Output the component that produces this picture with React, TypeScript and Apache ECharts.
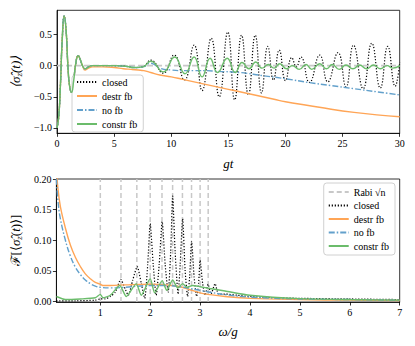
import React, { useEffect, useRef } from "react";
import * as echarts from "echarts";

// ---------- top panel: <sigma_z(t)> vs gt ----------
const tEarly = [0, 0.15, 0.3, 0.45, 0.63, 0.8, 0.95, 1.1, 1.27, 1.45, 1.65, 1.85, 2.05, 2.25];
const vEarly = [-1, -0.82, -0.3, 0.4, 0.8, 0.55, 0.0, -0.33, -0.43, -0.25, 0.05, 0.16, 0.09, -0.01];

const tClosedTail = [2.45, 2.75, 3.1, 4.0, 5.0, 6.0, 6.8, 7.5, 8.2, 9.3, 10.25, 11.15, 12.0, 12.7, 13.5, 14.2, 14.95, 15.55, 16.15, 16.75, 17.35, 17.9, 18.45, 18.95, 19.45, 20.0, 20.55, 20.95, 21.35, 22.1, 23.0, 23.7, 24.6, 25.3, 25.95, 26.8, 27.55, 28.3, 28.95, 29.6, 30.0];
const vClosedTail = [-0.05, -0.02, 0.0, 0.0, 0.0, -0.01, -0.03, -0.02, 0.09, -0.12, 0.17, -0.23, 0.33, -0.4, 0.44, -0.5, 0.54, -0.55, 0.49, -0.47, 0.49, -0.44, 0.31, -0.23, 0.25, -0.24, 0.13, -0.02, 0.14, -0.27, 0.17, -0.26, 0.21, -0.34, 0.33, -0.37, 0.36, -0.36, 0.31, -0.33, 0.05];

const tDestrTail = [2.45, 2.75, 3.1, 4.0, 5.0, 5.8, 6.5, 7.1, 7.6, 8.2, 9.0, 10.0, 11.0, 12.0, 13.0, 14.0, 15.0, 16.0, 17.0, 18.0, 19.0, 20.0, 22.0, 24.0, 26.0, 28.0, 30.0];
const vDestrTail = [-0.07, -0.04, -0.02, -0.02, -0.03, -0.05, -0.06, -0.07, -0.08, -0.11, -0.15, -0.18, -0.22, -0.26, -0.3, -0.34, -0.38, -0.42, -0.46, -0.5, -0.54, -0.58, -0.64, -0.7, -0.75, -0.79, -0.82];

const tNoFbTail = [2.45, 2.75, 3.1, 4.0, 5.0, 6.0, 6.8, 7.5, 8.2, 9.0, 10.0, 11.0, 12.0, 13.0, 14.0, 16.0, 18.0, 20.0, 22.0, 24.0, 26.0, 28.0, 30.0];
const vNoFbTail = [-0.05, -0.02, 0.0, 0.0, 0.0, -0.01, -0.03, -0.02, 0.04, -0.04, -0.07, -0.08, -0.08, -0.08, -0.09, -0.11, -0.16, -0.21, -0.27, -0.32, -0.37, -0.42, -0.47];

const tConstrTail = [2.45, 2.75, 3.1, 4.0, 5.0, 6.0, 6.8, 7.5, 8.2, 9.3, 10.3, 11.2, 12.0, 12.7, 13.4, 14.05, 14.9, 15.6, 16.2, 16.8, 17.4, 17.95, 18.5, 19.0, 19.5, 20.1, 20.6, 21.2, 21.8, 22.3, 23.0, 23.6, 24.1, 24.7, 25.3, 25.9, 26.5, 27.1, 27.7, 28.3, 28.9, 29.4, 30.0];
const vConstrTail = [-0.05, -0.02, 0.0, 0.0, 0.0, -0.01, -0.03, -0.02, 0.07, -0.1, 0.14, -0.13, 0.14, -0.18, 0.12, -0.11, 0.12, -0.11, 0.05, -0.05, 0.06, -0.04, 0.02, -0.04, 0.03, -0.05, 0.0, -0.06, 0.02, -0.06, 0.03, -0.05, 0.02, -0.06, 0.01, -0.05, 0.01, -0.05, 0.01, -0.05, 0.0, -0.04, 0.0];

const topXTicks = [0, 5, 10, 15, 20, 25, 30];
const topYTicks = [-1.0, -0.5, 0.0, 0.5];

// ---------- bottom panel: Fourier spectrum vs omega/g ----------
const rabiSqrtN = [1, 1.414, 1.732, 2, 2.236, 2.449, 2.646, 2.828, 3, 3.162];

const wClosed = [0.12, 0.5, 0.9, 1.0, 1.1, 1.2, 1.3, 1.41, 1.5, 1.56, 1.65, 1.74, 1.82, 1.89, 1.95, 2.0, 2.06, 2.12, 2.18, 2.24, 2.3, 2.36, 2.41, 2.45, 2.5, 2.56, 2.6, 2.65, 2.7, 2.75, 2.79, 2.83, 2.88, 2.93, 2.97, 3.0, 3.05, 3.1, 3.16, 3.22, 3.3, 3.37, 3.5, 3.75, 4.0, 4.5, 5.0, 6.0, 7.0];
const fClosed = [0.001, 0.001, 0.002, 0.004, 0.004, 0.008, 0.015, 0.036, 0.02, 0.01, 0.035, 0.057, 0.03, 0.005, 0.06, 0.127, 0.06, 0.01, 0.06, 0.13, 0.06, 0.015, 0.08, 0.172, 0.08, 0.012, 0.06, 0.135, 0.05, 0.008, 0.04, 0.098, 0.04, 0.008, 0.03, 0.067, 0.03, 0.01, 0.028, 0.012, 0.029, 0.012, 0.012, 0.01, 0.008, 0.006, 0.005, 0.004, 0.003];

const wDestr = [0.12, 0.15, 0.2, 0.3, 0.4, 0.5, 0.6, 0.7, 0.8, 0.9, 1.0, 1.05, 1.2, 1.5, 2.0, 2.3, 2.6, 2.8, 3.0, 3.2, 3.5, 4.0, 5.0, 6.0, 7.0];
const fDestr = [0.22, 0.185, 0.155, 0.12, 0.092, 0.072, 0.057, 0.045, 0.037, 0.031, 0.028, 0.026, 0.026, 0.027, 0.028, 0.027, 0.024, 0.019, 0.014, 0.011, 0.008, 0.005, 0.003, 0.002, 0.0015];

const wNoFb = [0.12, 0.15, 0.2, 0.3, 0.4, 0.5, 0.6, 0.7, 0.8, 0.9, 1.0, 1.2, 1.5, 2.0, 2.3, 2.6, 2.8, 3.0, 3.2, 3.5, 4.0, 5.0, 6.0, 7.0];
const fNoFb = [0.2, 0.165, 0.135, 0.1, 0.074, 0.056, 0.044, 0.035, 0.029, 0.025, 0.023, 0.022, 0.023, 0.026, 0.026, 0.024, 0.021, 0.018, 0.015, 0.011, 0.007, 0.004, 0.003, 0.002];

const wConstr = [0.12, 0.3, 0.6, 0.9, 1.0, 1.05, 1.2, 1.39, 1.52, 1.72, 1.82, 2.0, 2.09, 2.24, 2.33, 2.45, 2.55, 2.65, 2.74, 2.85, 3.0, 3.2, 3.5, 4.0, 5.0, 6.0, 7.0];
const fConstr = [0.008, 0.003, 0.004, 0.006, 0.0115, 0.006, 0.01, 0.026, 0.008, 0.029, 0.01, 0.037, 0.014, 0.034, 0.018, 0.035, 0.022, 0.029, 0.023, 0.026, 0.024, 0.021, 0.017, 0.01, 0.0045, 0.003, 0.002];

const botXTicks = [1, 2, 3, 4, 5, 6, 7];
const botYTicks = [0.0, 0.05, 0.1, 0.15, 0.2];

// ---------- styling ----------
const C_CLOSED = "#000000";
const C_DESTR = "#ffa556";
const C_NOFB = "#62a0cb";
const C_CONSTR = "#6bbc6b";
const SERIF = "Liberation Serif";

const zip = (a: number[], b: number[]) => a.map((x, i) => [x, b[i]]);

function lineSeries(name: string, data: any[], color: string, type: any, idx: number, smooth: number, width = 1.3, z = 3) {
  return {
    name,
    type: "line",
    xAxisIndex: idx,
    yAxisIndex: idx,
    data,
    smooth,
    symbol: "none",
    showSymbol: false,
    z,
    lineStyle: { color, width, type },
    itemStyle: { color, opacity: 0 },
    emphasis: { disabled: true },
  };
}

export default function App() {
  const ref = useRef<HTMLDivElement>(null);
  useEffect(() => {
    const chart = echarts.init(ref.current!, null, { renderer: "svg" });

    const rabiData: any[] = [];
    rabiSqrtN.forEach((v) => {
      rabiData.push([v, -0.001], [v, 0.2], [v, "-"]);
    });

    const axisCommon = {
      axisLine: { show: true, onZero: false, lineStyle: { color: "#000", width: 0.8 } },
      axisTick: { show: true, inside: false, length: 3.5, lineStyle: { color: "#000", width: 0.8 } },
      splitLine: { show: false },
    };
    const labelCommon = { color: "#000", fontFamily: SERIF, fontSize: 10 };

    const legendCommon = {
      orient: "vertical",
      selectedMode: false,
      itemWidth: 20,
      itemHeight: 12,
      itemStyle: { opacity: 0 },
      backgroundColor: "rgba(255,255,255,0.85)",
      borderColor: "#d0d0d0",
      borderWidth: 1,
      borderRadius: 3,
      textStyle: { color: "#000", fontFamily: SERIF, fontSize: 10, lineHeight: 12 },
    };

    const nameStyle = { color: "#000", fontFamily: SERIF, fontSize: 13, fontStyle: "italic" };

    const option: any = {
      animation: false,
      backgroundColor: "#fff",
      textStyle: { fontFamily: SERIF },
      grid: [
        { left: 51.7, top: 10.3, width: 348, height: 123, show: true, borderColor: "#000", borderWidth: 0.8, backgroundColor: "transparent" },
        { left: 51.7, top: 179, width: 348, height: 123, show: true, borderColor: "#000", borderWidth: 0.8, backgroundColor: "transparent" },
      ],
      legend: [
        {
          ...legendCommon,
          left: 72,
          top: 75,
          padding: [1, 6, 2, 4],
          itemGap: 2,
          data: ["closed", "destr fb", "no fb", "constr fb"],
        },
        {
          ...legendCommon,
          right: 20,
          top: 183,
          padding: [3, 6, 3, 4],
          itemGap: 1.5,
          data: ["Rabi √n", "closed", "destr fb", "no fb", "constr fb"],
        },
      ],
      xAxis: [
        {
          type: "value",
          gridIndex: 0,
          min: 0,
          max: 30,
          interval: 5,
          ...axisCommon,
          axisLabel: { ...labelCommon, margin: 5, customValues: topXTicks, formatter: (v: number) => String(v) },
          axisTick: { ...axisCommon.axisTick, customValues: topXTicks },
          name: "gt",
          nameLocation: "middle",
          nameGap: 24,
          nameTextStyle: nameStyle,
        },
        {
          type: "value",
          gridIndex: 1,
          min: 0.12,
          max: 7,
          ...axisCommon,
          axisLabel: { ...labelCommon, margin: 5, customValues: botXTicks, formatter: (v: number) => String(v) },
          axisTick: { ...axisCommon.axisTick, customValues: botXTicks },
          name: "ω/g",
          nameLocation: "middle",
          nameGap: 23,
          nameTextStyle: nameStyle,
        },
      ],
      yAxis: [
        {
          type: "value",
          gridIndex: 0,
          min: -1.087,
          max: 0.89,
          ...axisCommon,
          axisLabel: {
            ...labelCommon,
            margin: 5,
            customValues: topYTicks,
            formatter: (v: number) => v.toFixed(1).replace("-", "−"),
          },
          axisTick: { ...axisCommon.axisTick, customValues: topYTicks },
          name: "{i|⟨σ̂}{s|z}{i|(t)⟩}",
          nameLocation: "middle",
          nameGap: 29,
          nameRotate: 90,
          nameTextStyle: {
            color: "#000",
            fontFamily: SERIF,
            rich: {
              i: { fontFamily: SERIF, fontSize: 13, fontStyle: "italic", color: "#000", lineHeight: 16 },
              s: { fontFamily: SERIF, fontSize: 9, fontStyle: "italic", color: "#000", verticalAlign: "bottom", lineHeight: 16, padding: [6, 0, 0, 0] },
            },
          },
        },
        {
          type: "value",
          gridIndex: 1,
          min: -0.001,
          max: 0.2,
          ...axisCommon,
          axisLabel: {
            ...labelCommon,
            margin: 5,
            customValues: botYTicks,
            formatter: (v: number) => v.toFixed(2),
          },
          axisTick: { ...axisCommon.axisTick, customValues: botYTicks },
          name: "{f|ℱ}{n|[⟨}{i|σ̂}{s|z}{n|(}{i|t}{n|)⟩]}",
          nameLocation: "middle",
          nameGap: 33,
          nameRotate: 90,
          nameTextStyle: {
            color: "#000",
            fontFamily: SERIF,
            rich: {
              f: { fontFamily: SERIF, fontSize: 13, color: "#000", lineHeight: 16 },
              n: { fontFamily: SERIF, fontSize: 13, color: "#000", lineHeight: 16 },
              i: { fontFamily: SERIF, fontSize: 13, fontStyle: "italic", color: "#000", lineHeight: 16 },
              s: { fontFamily: SERIF, fontSize: 9, fontStyle: "italic", color: "#000", verticalAlign: "bottom", lineHeight: 16, padding: [6, 0, 0, 0] },
            },
          },
        },
      ],
      series: [
        // top
        lineSeries("zero", [[0, 0], [30, 0]], "#c8c8c8", [6, 3], 0, 0, 1.8, 1),
        lineSeries("closed", zip(tEarly.concat(tClosedTail), vEarly.concat(vClosedTail)), C_CLOSED, [1.2, 1.8], 0, 0.5, 1.2, 3),
        lineSeries("destr fb", zip(tEarly.concat(tDestrTail), vEarly.concat(vDestrTail)), C_DESTR, "solid", 0, 0.5, 1.4, 3),
        lineSeries("no fb", zip(tEarly.concat(tNoFbTail), vEarly.concat(vNoFbTail)), C_NOFB, [6, 2, 1.5, 2], 0, 0.5, 1.4, 3),
        lineSeries("constr fb", zip(tEarly.concat(tConstrTail), vEarly.concat(vConstrTail)), C_CONSTR, "solid", 0, 0.5, 1.4, 4),
        // bottom
        lineSeries("Rabi √n", rabiData, "#c8c8c8", [5, 3], 1, 0, 1.5, 1),
        lineSeries("closed", zip(wClosed, fClosed), C_CLOSED, [1.2, 1.8], 1, 0.2, 1.2, 3),
        lineSeries("destr fb", zip(wDestr, fDestr), C_DESTR, "solid", 1, 0.4, 1.4, 3),
        lineSeries("no fb", zip(wNoFb, fNoFb), C_NOFB, [6, 2, 1.5, 2], 1, 0.4, 1.4, 3),
        lineSeries("constr fb", zip(wConstr, fConstr), C_CONSTR, "solid", 1, 0.2, 1.4, 4),
      ],
    };
    chart.setOption(option);
    return () => chart.dispose();
  }, []);
  return (
    <div
      ref={ref}
      style={{ position: "fixed", left: 0, top: 0, width: 415, height: 346, background: "#fff" }}
    />
  );
}
